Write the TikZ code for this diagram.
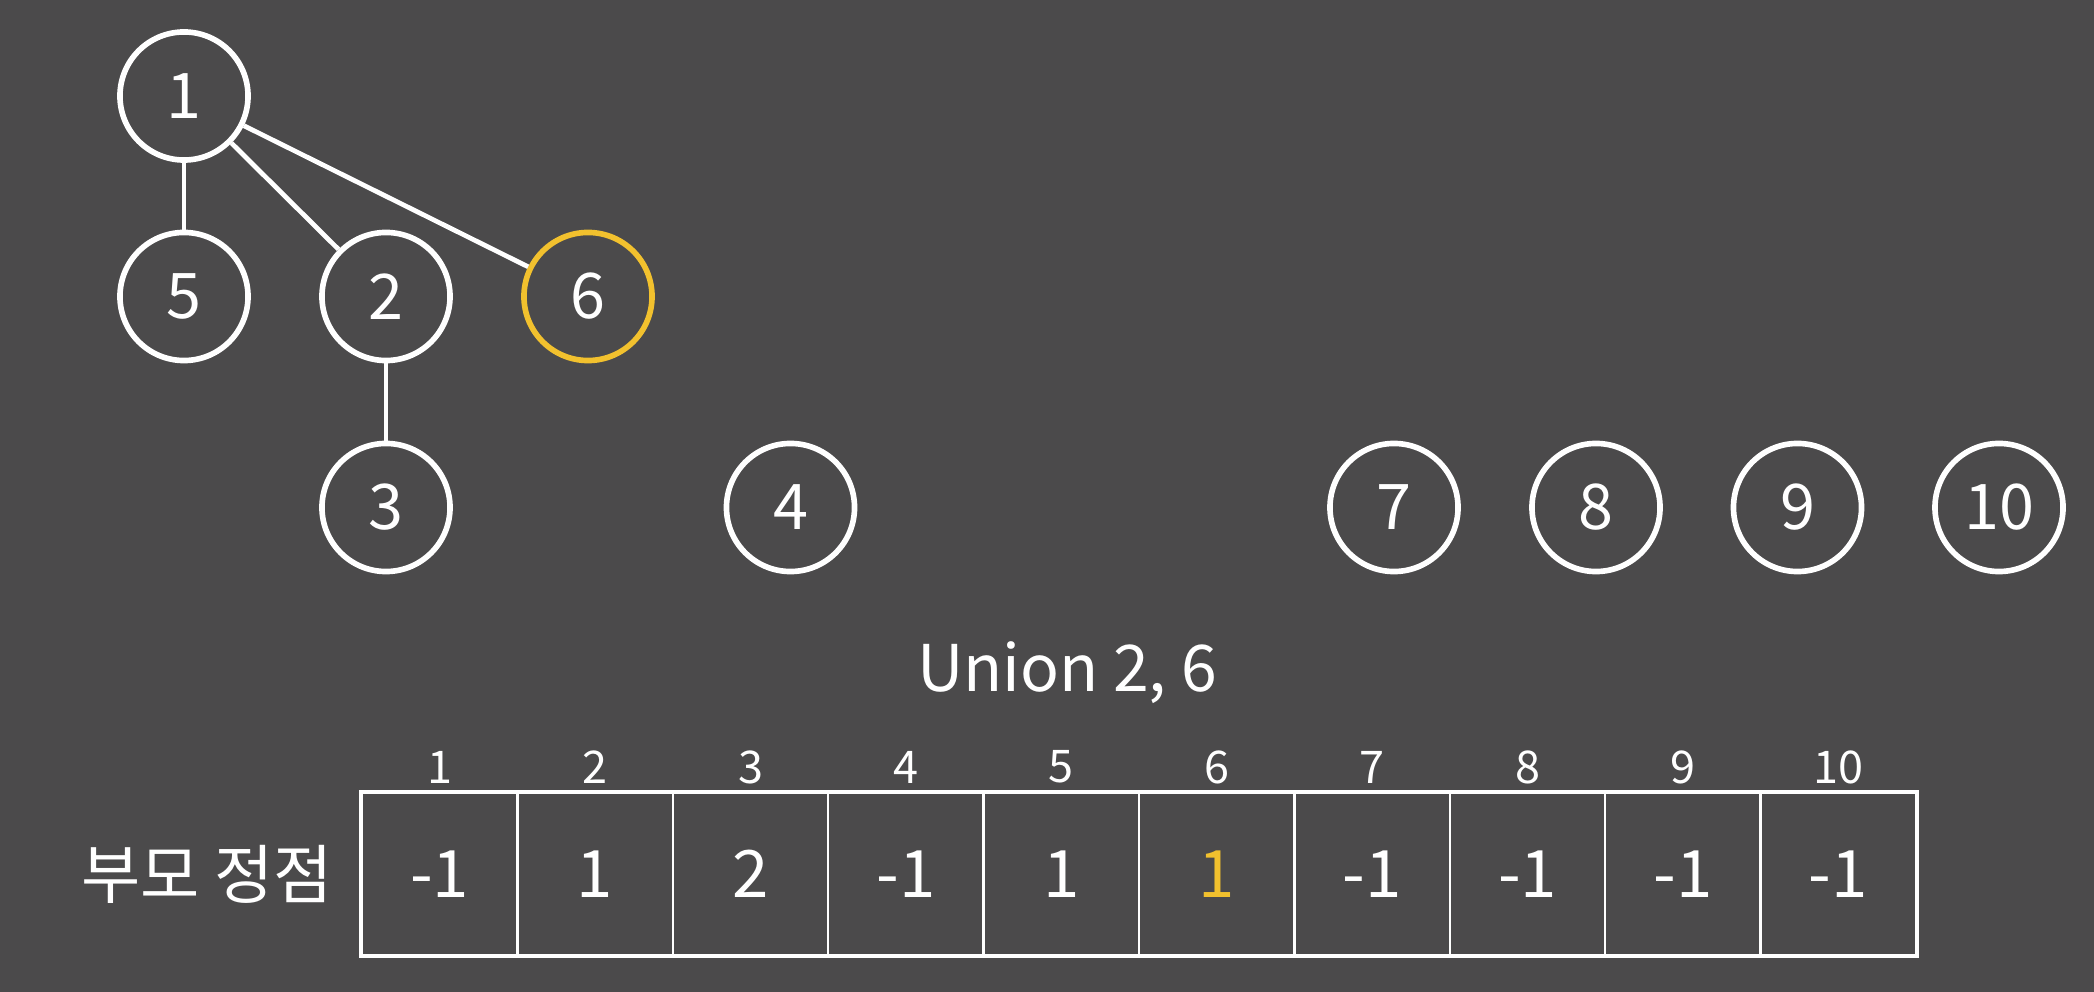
\documentclass[tikz,border=0pt]{standalone}
\usepackage{fontspec}
\setmainfont{Noto Sans CJK KR}
\definecolor{bg}{RGB}{75,74,75}
\definecolor{hl}{RGB}{242,193,46}
\tikzset{
  vert/.style={circle,draw=white,line width=1.6pt,minimum size=1.28cm,inner sep=0pt,text=white,font=\fontsize{17.9}{20}\selectfont},
  hlvert/.style={vert,draw=hl},
  edge/.style={draw=white,line width=1.35pt},
  cell/.style={draw=white,line width=0.7pt,minimum width=1.554cm,minimum height=1.62cm,inner sep=0pt,text=white,font=\fontsize{18.6}{20}\selectfont},
  idx/.style={text=white,inner sep=0pt,font=\fontsize{12.8}{14}\selectfont},
  lbl/.style={text=white,inner sep=0pt,font=\fontsize{18.3}{20}\selectfont}
}
\begin{document}
\begin{tikzpicture}[x=0.01cm,y=-0.01cm]
\fill[bg] (0,0) rectangle (2094,992);
\useasboundingbox (0,0) rectangle (2094,992);
% vertices
\node[vert] (n1) at (184,96) {1};
\node[vert] (n5) at (184,296.5) {5};
\node[vert] (n2) at (386,296.5) {2};
\node[hlvert] (n6) at (588,296.5) {6};
\node[vert] (n3) at (386,507.5) {3};
\node[vert] (n4) at (790.5,507.5) {4};
\node[vert] (n7) at (1394,507.5) {7};
\node[vert] (n8) at (1596,507.5) {8};
\node[vert] (n9) at (1797.5,507.5) {9};
\node[vert] (n10) at (1999,507.5) {10};
\draw[edge] (n1) -- (n5);
\draw[edge] (n1) -- (n2);
\draw[edge] (n1) -- (n6);
\draw[edge] (n2) -- (n3);
% title
\node[lbl,anchor=base] (title) at (1067,692) {Union 2, 6};
% table
\foreach \i/\v in {1/-1,2/1,3/2,4/-1,5/1,7/-1,8/-1,9/-1,10/-1}{
  \node[cell] (c\i) at ({362+155.4*(\i-0.5)},874) {\v};
  \node[idx] (h\i) at ({362+155.4*(\i-0.5)},767) {\i};
}
\node[cell,text=hl] (c6) at ({362+155.4*5.5},874) {1};
\node[idx] (h6) at ({362+155.4*5.5},767) {6};
\draw[white,line width=1.2pt] (c1.north west) rectangle (c10.south east);
\node[lbl] (rowlabel) at (207,874) {부모 정점};
\end{tikzpicture}
\end{document}
